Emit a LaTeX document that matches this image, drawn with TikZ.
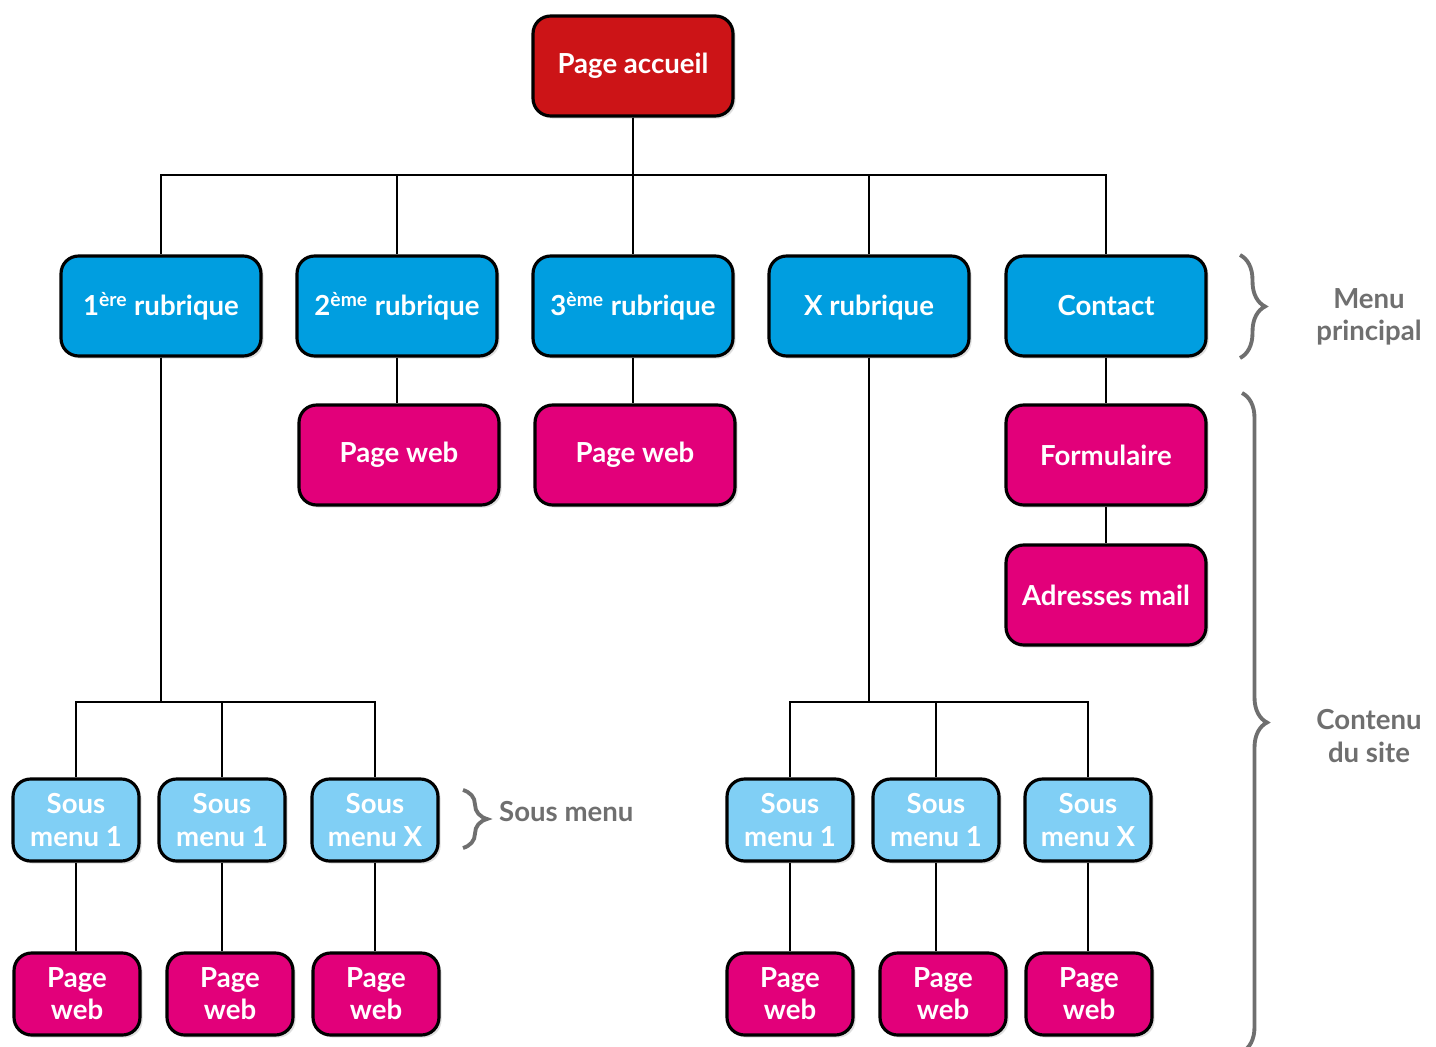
\documentclass[tikz,border=0pt]{standalone}
\usepackage{fontspec}
\setmainfont{Lato}
\usetikzlibrary{positioning,shadows,decorations.pathreplacing}
\definecolor{rouge}{HTML}{CC1417}
\definecolor{bleu}{HTML}{009EE0}
\definecolor{bleuclair}{HTML}{80CFF5}
\definecolor{rose}{HTML}{E2007A}
\definecolor{gris}{HTML}{6F6F6F}

\begin{document}
\begin{tikzpicture}[x=0.02cm,y=-0.02cm,
  boite/.style={draw=black, line width=1.8pt, rounded corners=10pt, text=white, align=center,
    font=\fontsize{15.7}{18.3}\selectfont\bfseries,
    drop shadow={shadow xshift=1.5pt, shadow yshift=-1.5pt, opacity=0.25}},
  grand/.style={boite, minimum width=4cm, minimum height=2cm},
  petit/.style={boite, minimum width=2.52cm, minimum height=1.64cm},
  lien/.style={line width=1.1pt},
  accolade/.style={draw=gris, line width=2.2pt, decorate, decoration={brace, amplitude=#1}},
  legende/.style={text=gris, align=center, font=\fontsize{15.7}{18.3}\selectfont\bfseries}]
\useasboundingbox (0,0) rectangle (1436,1047);

% page d'accueil
\node[grand, fill=rouge] (acc) at (633,66) {Page accueil};

% menu principal
\node[grand, fill=bleu] (r1) at (161,306) {1\textsuperscript{ère} rubrique};
\node[grand, fill=bleu] (r2) at (397,306) {2\textsuperscript{ème} rubrique};
\node[grand, fill=bleu] (r3) at (633,306) {3\textsuperscript{ème} rubrique};
\node[grand, fill=bleu] (r4) at (869,306) {\vphantom{1\textsuperscript{è}}X rubrique};
\node[grand, fill=bleu] (r5) at (1106,306) {Contact};

\node[grand, fill=rose] (pw2) at (399,455) {Page web};
\node[grand, fill=rose] (pw3) at (635,455) {Page web};
\node[grand, fill=rose] (form) at (1106,455) {Formulaire};
\node[grand, fill=rose] (mail) at (1106,595) {Adresses mail};

% sous menus
\node[petit, fill=bleuclair] (sm1) at (76,820) {Sous\\menu 1};
\node[petit, fill=bleuclair] (sm2) at (222,820) {Sous\\menu 1};
\node[petit, fill=bleuclair] (sm3) at (375,820) {Sous\\menu X};
\node[petit, fill=bleuclair] (sm4) at (790,820) {Sous\\menu 1};
\node[petit, fill=bleuclair] (sm5) at (936,820) {Sous\\menu 1};
\node[petit, fill=bleuclair] (sm6) at (1088,820) {Sous\\menu X};

\node[petit, fill=rose] (pb1) at (77,994) {Page\\web};
\node[petit, fill=rose] (pb2) at (230,994) {Page\\web};
\node[petit, fill=rose] (pb3) at (376,994) {Page\\web};
\node[petit, fill=rose] (pb4) at (790,994) {Page\\web};
\node[petit, fill=rose] (pb5) at (943,994) {Page\\web};
\node[petit, fill=rose] (pb6) at (1089,994) {Page\\web};

% liens
\coordinate (bus) at (633,175);
\coordinate (gauche) at (161,702);
\coordinate (droite) at (869,702);
\draw[lien] (acc) -- (r3);
\foreach \n in {r1,r2,r4,r5}
\draw[lien] (acc.south) -- (bus) -| (\n.north);
\draw[lien] (r2) -- (r2 |- pw2.north);
\draw[lien] (r3) -- (r3 |- pw3.north);
\draw[lien] (r5) -- (form);
\draw[lien] (form) -- (mail);
\foreach \n in {sm1,sm2,sm3}
\draw[lien] (r1.south) -- (gauche) -| (\n.north);
\foreach \n in {sm4,sm5,sm6}
\draw[lien] (r4.south) -- (droite) -| (\n.north);
\foreach \s/\p in {sm1/pb1,sm2/pb2,sm3/pb3,sm4/pb4,sm5/pb5,sm6/pb6}
\draw[lien] (\s.south) -- (\s.south |- \p.north);

% accolades
\draw[accolade=0.5cm] (1240,255) -- (1240,358);
\draw[accolade=0.48cm] (463,790) -- (463,848);
\draw[accolade=0.5cm] (1242,393) -- (1242,1052);
\node[legende] (menu) at (1369,317) {Menu\\principal};
\node[legende] (contenu) at (1369,736) {Contenu\\du site};
\node[legende, anchor=west] (sous) at (493,812) {Sous menu};
\end{tikzpicture}
\end{document}
